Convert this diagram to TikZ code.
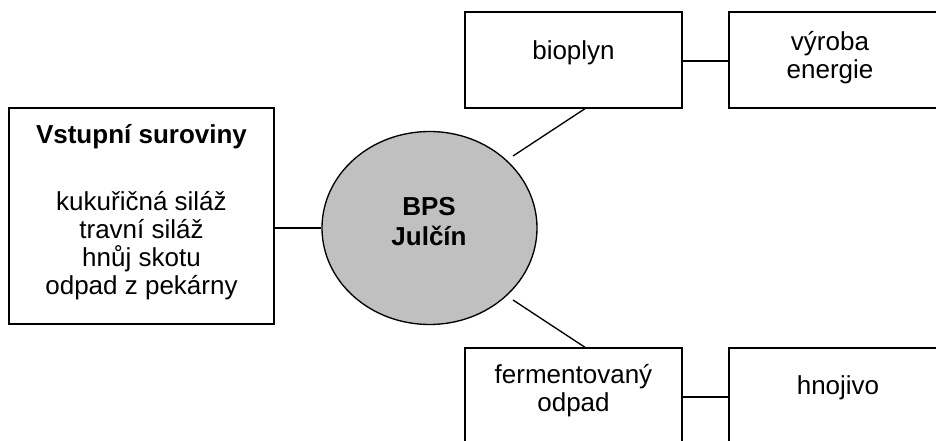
\documentclass[tikz,border=0pt]{standalone}
\usepackage{fontspec}
\setmainfont{Liberation Sans}
\usetikzlibrary{shapes.geometric,calc}
\begin{document}
\begin{tikzpicture}[x=0.75pt,y=-0.75pt,
  box/.style={draw,line width=1pt,inner sep=0pt,minimum width=#1},
  txt/.style={align=center,inner sep=0pt,font=\fontsize{19.5}{21}\selectfont},
  btxt/.style={txt,font=\fontsize{19.5}{22.5}\selectfont\bfseries},
  conn/.style={line width=1pt}]
\useasboundingbox (0,0) rectangle (936,441);
\clip (0,0) rectangle (936,441);
% boxes
\node[box=198.75pt,minimum height=162pt] (in) at (141.5,216) {};
\node[draw,line width=1pt,ellipse,fill={rgb,255:red,192;green,192;blue,192},
      minimum width=161.25pt,minimum height=144.75pt,inner sep=0pt] (e) at (429.5,228) {};
\node[box=162.75pt,minimum height=72pt] (bio) at (573.5,60) {};
\node[box=158.25pt,minimum height=72pt] (vyr) at (834.5,60) {};
\node[box=162.75pt,minimum height=73.5pt] (fer) at (573.5,397) {};
\node[box=158.25pt,minimum height=73.5pt] (hno) at (834.5,397) {};
% texts
\node[btxt] (tin) at (141.5,137) {Vstupní suroviny};
\node[txt] (lin) at (141.5,246) {kukuřičná siláž\\travní siláž\\hnůj skotu\\odpad z pekárny};
\node[btxt] (te) at (429,222) {BPS\\Julčín};
\node[txt] (tbio) at (573.5,53) {bioplyn};
\node[txt] (tvyr) at (830,58) {výroba\\energie};
\node[txt] (tfer) at (573.5,391) {fermentovaný\\odpad};
\node[txt] (thno) at (838,388) {hnojivo};
% connectors
\coordinate (g1) at (513,156);
\coordinate (g2) at (513,300);
\draw[conn] (in.east |- e.west) -- (e.west);
\draw[conn] (bio.east |- 0,61) -- (vyr.west |- 0,61);
\draw[conn] (fer.east) -- (hno.west);
\draw[conn] ($(bio.south)+(11.5,0)$) -- (g1);
\draw[conn] ($(fer.north)+(11.5,0)$) -- (g2);
\end{tikzpicture}
\end{document}
